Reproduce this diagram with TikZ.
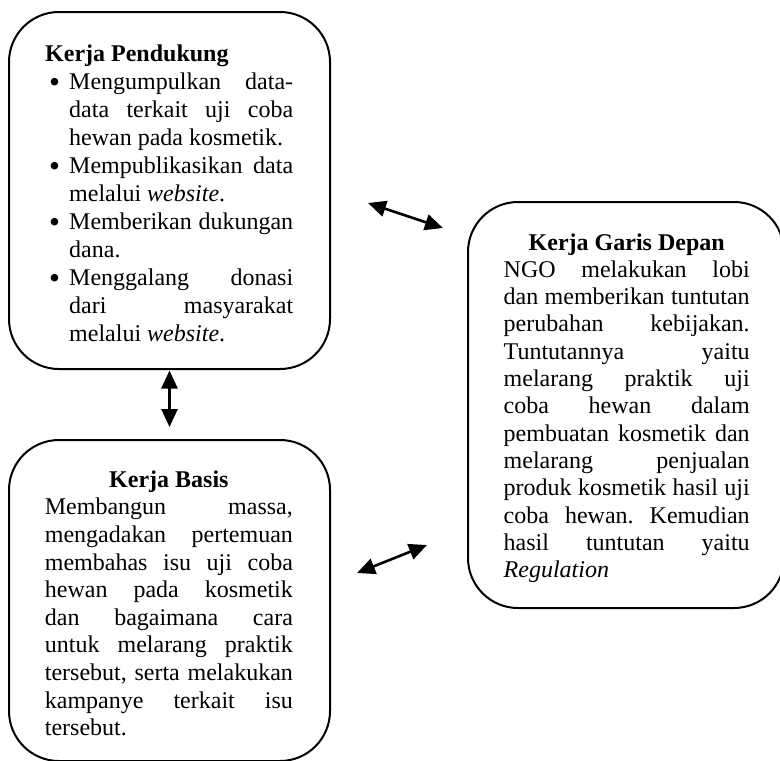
\documentclass[tikz,border=0pt]{standalone}
\usepackage{fontspec}
\setmainfont{Liberation Serif}
\usetikzlibrary{arrows.meta}

\hyphenpenalty=10000
\frenchspacing
\newcommand{\butir}[1]{\par\noindent\hangindent=12pt\hangafter=1\hbox to 12pt{\hskip2pt\raisebox{-1.6pt}{\scalebox{1.3}{\textbullet}}\hfil}#1}

\tikzset{
  kotak/.style={draw, line width=1pt, rounded corners=25pt, inner sep=0pt},
  isi/.style={text width=#1, align=justify, inner sep=0pt, anchor=base,
    font=\fontsize{12pt}{13.8pt}\selectfont},
  panah/.style={{Triangle[length=9pt,width=8pt]}-{Triangle[length=9pt,width=8pt]}, line width=1.3pt}
}

\begin{document}
\begin{tikzpicture}[x=0.5pt, y=-0.5pt]
\useasboundingbox (0,0) rectangle (780,760);
\clip (0,0) rectangle (780,760);

% kotak
\node[kotak, minimum width=160.5pt, minimum height=178.5pt] (pendukung) at (169.5,190.5) {};
\node[kotak, minimum width=160.5pt, minimum height=160.5pt] (basis) at (169.5,600.5) {};
\node[kotak, minimum width=158pt, minimum height=203pt] (garisdepan) at (626,405) {};

% isi kotak
\node[isi=124pt, font=\fontsize{12pt}{14pt}\selectfont] (teksPendukung) at (169.2,61) {\textbf{Kerja Pendukung}
  \butir{Mengumpulkan data-\linebreak data terkait uji coba\linebreak hewan pada kosmetik.}
  \butir{Mempublikasikan data\linebreak melalui \textit{website}.}
  \butir{Memberikan dukungan\linebreak dana.}
  \butir{Menggalang donasi\linebreak dari masyarakat\linebreak melalui \textit{website}.}\par};

\node[isi=124pt] (teksBasis) at (168.9,487.3) {{\centering\textbf{Kerja Basis}\par}
  Membangun massa,\linebreak mengadakan pertemuan\linebreak membahas isu uji coba\linebreak hewan pada kosmetik\linebreak dan bagaimana cara\linebreak untuk melarang praktik\linebreak tersebut, serta melakukan\linebreak kampanye terkait isu\linebreak tersebut.};

\node[isi=123pt, font=\fontsize{12pt}{13.65pt}\selectfont] (teksGaris) at (626.7,250) {{\centering\textbf{Kerja Garis Depan}\par}
  NGO melakukan lobi\linebreak dan memberikan tuntutan\linebreak perubahan kebijakan.\linebreak Tuntutannya yaitu\linebreak melarang praktik uji\linebreak coba hewan dalam\linebreak pembuatan kosmetik dan\linebreak melarang penjualan\linebreak produk kosmetik hasil uji\linebreak coba hewan. Kemudian\linebreak hasil tuntutan yaitu\linebreak \textit{Regulation}};

% panah
\coordinate (a1) at (368,203);
\coordinate (a2) at (443,228);
\coordinate (c1) at (357,573);
\coordinate (c2) at (427,545);
\draw[panah] (a1) -- (a2);
\draw[panah] ([yshift=-0.25pt]pendukung.south) -- ([yshift=6pt]basis.north);
\draw[panah] (c1) -- (c2);
\end{tikzpicture}
\end{document}
